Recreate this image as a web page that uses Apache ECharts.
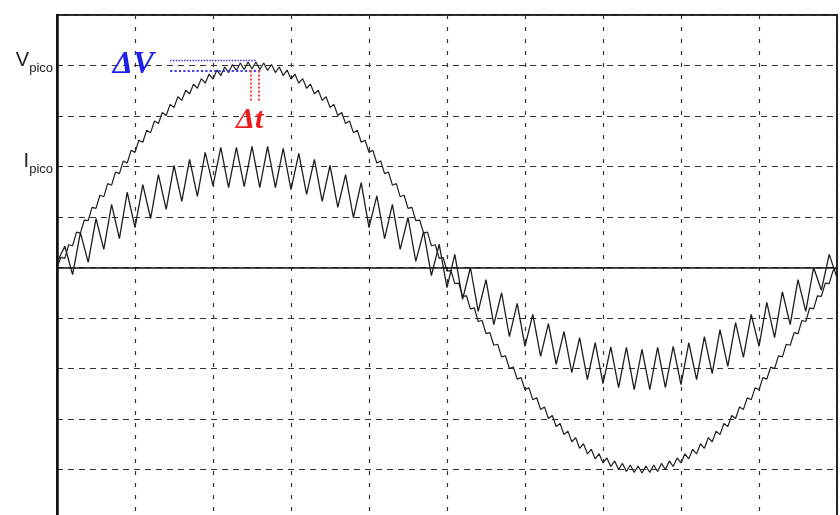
<!DOCTYPE html>
<html>
<head>
<meta charset="utf-8">
<script src="https://cdn.jsdelivr.net/npm/echarts/dist/echarts.min.js"></script>
<style>
  html, body { margin: 0; padding: 0; background: #fff; overflow: hidden; }
  #chart { width: 840px; height: 530px; }
</style>
</head>
<body>
<div id="chart"></div>
<script>
// x in grid divisions (0..10), y in divisions (-5..5)
var vStep = 0.05;   // voltage samples, one every 0.05 div
var iStep = 0.1;    // current samples (ripple vertices), one every 0.1 div

var voltage = [
  0, 0.20, 0.18, 0.45, 0.43, 0.70, 0.68, 0.94, 0.93, 1.19, 1.17, 1.43, 1.40, 1.66, 1.63, 1.89, 1.86, 2.11, 2.07, 2.32,
  2.28, 2.52, 2.48, 2.72, 2.67, 2.90, 2.85, 3.07, 3.01, 3.23, 3.17, 3.38, 3.31, 3.51, 3.44, 3.63, 3.55, 3.74, 3.65, 3.83,
  3.73, 3.91, 3.80, 3.97, 3.86, 4.02, 3.90, 4.05, 3.92, 4.07, 3.93,
  4.07, 3.92, 4.05, 3.90, 4.02, 3.86, 3.97, 3.80, 3.91, 3.73, 3.83, 3.65, 3.74, 3.55, 3.63, 3.44, 3.51, 3.31, 3.38, 3.17,
  3.23, 3.01, 3.07, 2.85, 2.90, 2.67, 2.72, 2.48, 2.52, 2.28, 2.32, 2.07, 2.11, 1.86, 1.89, 1.63, 1.66, 1.40, 1.43, 1.17,
  1.19, 0.93, 0.94, 0.68, 0.70, 0.43, 0.45, 0.18, 0.20, -0.07,
  -0.06, -0.32, -0.31, -0.57, -0.56, -0.82, -0.80, -1.07, -1.05, -1.31, -1.29, -1.54, -1.52, -1.77, -1.75, -2.00, -1.97, -2.21, -2.18, -2.42,
  -2.38, -2.62, -2.58, -2.81, -2.76, -2.99, -2.93, -3.15, -3.09, -3.31, -3.24, -3.45, -3.37, -3.58, -3.49, -3.69, -3.60, -3.79, -3.69, -3.87,
  -3.77, -3.94, -3.83, -4.00, -3.88, -4.04, -3.91, -4.06, -3.93, -4.07,
  -3.93, -4.06, -3.91, -4.04, -3.88, -4.00, -3.83, -3.94, -3.77, -3.87, -3.69, -3.79, -3.60, -3.69, -3.49, -3.58, -3.37, -3.45, -3.24, -3.31,
  -3.09, -3.15, -2.93, -2.99, -2.76, -2.81, -2.58, -2.62, -2.38, -2.42, -2.18, -2.21, -1.97, -2.00, -1.75, -1.77, -1.52, -1.54, -1.29, -1.31,
  -1.05, -1.07, -0.80, -0.82, -0.56, -0.57, -0.31, -0.32, -0.06, 0
];

var current = [
  0.10, 0.42, -0.14, 0.69, 0.10, 0.97, 0.36, 1.25, 0.57, 1.49,
  0.79, 1.64, 0.97, 1.84, 1.15, 2.02, 1.31, 2.14, 1.41, 2.28,
  1.62, 2.38, 1.58, 2.38, 1.60, 2.40, 1.58, 2.40, 1.58, 2.36,
  1.54, 2.26, 1.45, 2.14, 1.31, 2.02, 1.19, 1.84, 0.99, 1.68,
  0.79, 1.42, 0.57, 1.25, 0.36, 0.99, 0.12, 0.71, -0.16, 0.46,
  -0.40, 0.26, -0.63, 0.00, -0.87, -0.24, -1.13, -0.50, -1.37, -0.71,
  -1.56, -0.93, -1.76, -1.11, -1.92, -1.27, -2.08, -1.39, -2.22, -1.49,
  -2.30, -1.57, -2.38, -1.58, -2.42, -1.62, -2.42, -1.58, -2.38, -1.56,
  -2.32, -1.49, -2.22, -1.37, -2.10, -1.23, -1.96, -1.09, -1.78, -0.93,
  -1.56, -0.69, -1.39, -0.48, -1.13, -0.24, -0.87, 0.00, -0.45, 0.26,
  -0.20
];

// y-axis labels
var tickLabels = { 4: '{m|V}{s|pico}', 2: '{m|I}{s|pico}' };

// ΔV / Δt markers (in divisions)
var dvLevels = [4.1, 3.9];
var dvStart = 1.45;
var dvEnd = [2.56, 2.62];
var dtTimes = [2.49, 2.59];
var dtBottom = 3.27;

var vData = voltage.map(function (v, i) { return [i * vStep, v]; });
var iData = current.map(function (v, i) { return [i * iStep, v]; });

var chart = echarts.init(document.getElementById('chart'));

var blueDot = { color: '#2b2bf0', type: 'dotted', width: 1.4 };
var redDot = { color: '#ff3a3a', type: 'dotted', width: 2 };

var option = {
  animation: false,
  grid: {
    left: 57, top: 15, width: 780, height: 505,
    show: true, borderColor: '#222', borderWidth: 2
  },
  xAxis: {
    type: 'value', min: 0, max: 10, interval: 1,
    axisLine: { onZero: true, lineStyle: { color: '#111', width: 1.5 } },
    axisTick: { show: false },
    axisLabel: { show: false },
    splitLine: { show: true, lineStyle: { color: '#333', type: [4, 8], width: 1.2 } }
  },
  yAxis: {
    type: 'value', min: -5, max: 5, interval: 1,
    axisLine: { show: true, lineStyle: { color: '#111', width: 2.5 } },
    axisTick: { show: false },
    axisLabel: {
      margin: 4,
      padding: [0, 0, 6, 0],
      formatter: function (v) { return tickLabels[v] || ''; },
      rich: {
        m: { fontFamily: 'Liberation Sans', fontSize: 20, color: '#222', verticalAlign: 'top', lineHeight: 14 },
        s: { fontFamily: 'Liberation Sans', fontSize: 13, color: '#222', verticalAlign: 'bottom', lineHeight: 24 }
      }
    },
    splitLine: { show: true, lineStyle: { color: '#333', type: [6, 5], width: 1.2 } }
  },
  series: [
    {
      name: 'V', type: 'line', data: vData, showSymbol: false,
      lineStyle: { color: '#1e1e1e', width: 1.2 },
      markLine: {
        silent: true, symbol: ['none', 'none'], label: { show: false },
        data: [
          [{ coord: [dvStart, dvLevels[0]], lineStyle: blueDot }, { coord: [dvEnd[0], dvLevels[0]] }],
          [{ coord: [dvStart, dvLevels[1]], lineStyle: { color: '#3b3bf0', type: 'dotted', width: 2.2 } }, { coord: [dvEnd[1], dvLevels[1]] }],
          [{ coord: [dtTimes[0], dvLevels[1]], lineStyle: redDot }, { coord: [dtTimes[0], dtBottom] }],
          [{ coord: [dtTimes[1], dvLevels[1]], lineStyle: redDot }, { coord: [dtTimes[1], dtBottom] }]
        ]
      },
      markPoint: {
        silent: true,
        data: [
          {
            coord: [0.98, 4.02], symbol: 'circle', symbolSize: 0,
            label: { show: true, position: 'inside', formatter: 'ΔV', fontFamily: 'Liberation Serif',
              fontStyle: 'italic', fontWeight: 'bold', fontSize: 32, color: '#1f1fe8' }
          },
          {
            coord: [2.47, 2.91], symbol: 'circle', symbolSize: 0,
            label: { show: true, position: 'inside', formatter: 'Δt', fontFamily: 'Liberation Serif',
              fontStyle: 'italic', fontWeight: 'bold', fontSize: 30, color: '#f01c1c' }
          }
        ]
      }
    },
    {
      name: 'I', type: 'line', data: iData, showSymbol: false,
      lineStyle: { color: '#1e1e1e', width: 1.3 }
    }
  ]
};

chart.setOption(option);
</script>
</body>
</html>
